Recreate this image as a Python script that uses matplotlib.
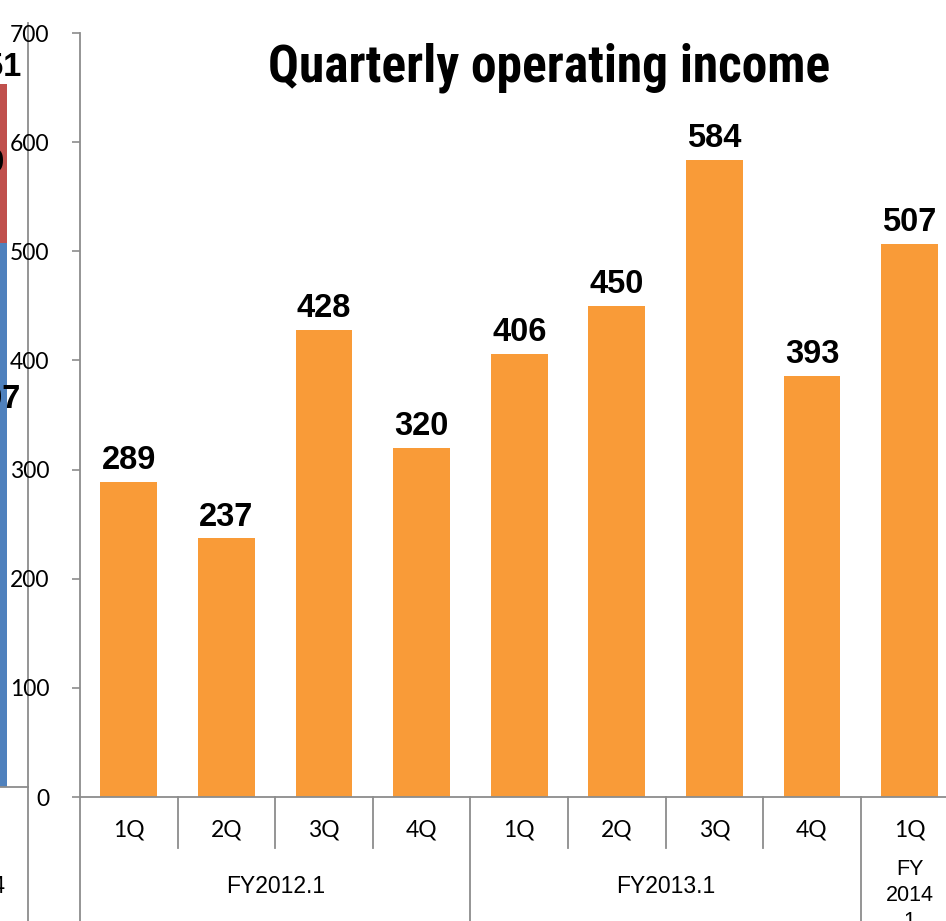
import matplotlib
matplotlib.use("Agg")
import matplotlib.pyplot as plt
from matplotlib.transforms import blended_transform_factory
from matplotlib import font_manager

# ---------------- data ----------------
quarters = ["1Q", "2Q", "3Q", "4Q", "1Q", "2Q", "3Q", "4Q", "1Q"]
bar_values = [289, 237, 428, 320, 406, 450, 584, 386, 507]
value_labels = ["289", "237", "428", "320", "406", "450", "584", "393", "507"]
groups = ["FY2012.1", "FY2013.1", "FY\n2014\n1"]
group_spans = [(0, 4), (4, 8), (8, 9)]
y_ticks = [0, 100, 200, 300, 400, 500, 600, 700]
title = "Quarterly operating income"

# partial neighbouring chart (cut off at the left edge)
left_blue = 498
left_red = 146
left_labels = ["497", "149", "651"]
left_cat = "FY2014"

W, H = 946, 921
fig = plt.figure(figsize=(W / 100, H / 100), dpi=100)

def px(x0, y0, w, h):
    return [x0 / W, 1 - (y0 + h) / H, w / W, h / H]

gray = "#8c8c8c"
orange = "#F99B38"
num_font = ["Lato", "DejaVu Sans"]
arial = ["Liberation Sans", "DejaVu Sans"]

names = {f.name for f in font_manager.fontManager.ttflist}
cond = [n for n in ["Liberation Sans Narrow", "DejaVu Sans Condensed", "Roboto Condensed",
                    "Open Sans Condensed"] if n in names]
title_family = cond[:1] + ["Roboto", "DejaVu Sans"]

# ---------------- partial left chart (drawn first, behind) ----------------
axl = fig.add_axes(px(-120, 23, 148, 764))
axl.patch.set_visible(False)
axl.set_xlim(0, 1)
axl.set_ylim(0, 700)
axl.bar([0.6], [left_blue], width=0.51, color="#4F81BD")
axl.bar([0.6], [left_red], bottom=[left_blue], width=0.51, color="#C0504D")
axl.set_xticks([])
axl.set_yticks([])
for s in ["top", "left"]:
    axl.spines[s].set_visible(False)
for s in ["bottom", "right"]:
    axl.spines[s].set_color(gray)
    axl.spines[s].set_linewidth(1.3)
axl.plot([1, 1], [0, -140 / 764], transform=axl.transAxes, color=gray, lw=1.3,
         clip_on=False)
btr = blended_transform_factory(axl.transAxes, axl.transData)
axl.text(0.95, 355, left_labels[0], ha="right", va="center", transform=btr,
         fontsize=23.5, fontweight="bold", fontfamily=arial)
axl.text(0.84, left_blue + left_red / 2, left_labels[1], ha="right", va="center",
         transform=btr, fontsize=23.5, fontweight="bold", fontfamily=arial)
axl.annotate(left_labels[2], (0.96, left_blue + left_red), xycoords=btr,
             xytext=(0, 1), textcoords="offset points", ha="right", va="bottom",
             fontsize=23.5, fontweight="bold", fontfamily=arial)
axl.text(0.845, -99 / 764, left_cat, transform=axl.transAxes,
         ha="right", va="center", fontsize=16.5, fontfamily=arial)

# ---------------- main chart ----------------
cw = 97.6
ax = fig.add_axes(px(80, 33, 9 * cw, 764))
ax.patch.set_visible(False)
xs = list(range(len(bar_values)))
ax.bar([x + 0.5 for x in xs], bar_values, width=0.584, color=orange, zorder=2)
ax.set_xlim(0, 9)
ax.set_ylim(0, 700)
ax.set_yticks(y_ticks)
ax.set_yticklabels([str(t) for t in y_ticks], fontfamily=num_font, fontsize=16.5)
ax.tick_params(axis="y", length=6, width=1.2, color=gray, pad=16)
ax.tick_params(axis="x", length=0, labelbottom=False)
for s in ["top", "right"]:
    ax.spines[s].set_visible(False)
for s in ["left", "bottom"]:
    ax.spines[s].set_color(gray)
    ax.spines[s].set_linewidth(1.3)

for x, v, lab in zip(xs, bar_values, value_labels):
    ax.annotate(lab, (x + 0.5, v), xytext=(0, 4), textcoords="offset points",
                ha="center", va="bottom", fontsize=23.5, fontweight="bold",
                fontfamily=arial, color="black")

tr = blended_transform_factory(ax.transData, ax.transAxes)
for x, q in zip(xs, quarters):
    ax.text(x + 0.5, -33 / 764, q, transform=tr, ha="center", va="center",
            fontsize=16.5, fontfamily=num_font)

# separators
group_edges = {a for a, b in group_spans}
for b in range(0, 10):
    if b in group_edges:
        ax.plot([b, b], [0, -130 / 764], transform=tr, color=gray, lw=1.3,
                clip_on=False)
    elif b < 9:
        ax.plot([b, b], [0, -51 / 764], transform=tr, color=gray, lw=1.3,
                clip_on=False)

for g, (a, b) in zip(groups, group_spans):
    if "\n" in g:
        ax.text((a + b) / 2, -62 / 764, g, transform=tr, ha="center", va="top",
                fontsize=15.5, fontfamily=arial, linespacing=1.32)
    else:
        ax.text((a + b) / 2, -89 / 764, g, transform=tr, ha="center", va="center",
                fontsize=16.5, fontfamily=arial)

fig.text(549 / W, 1 - 68 / H, title, ha="center", va="center", fontsize=37,
         fontweight="bold", fontstretch="condensed", fontfamily=title_family)

fig.savefig("out.png", dpi=100)
